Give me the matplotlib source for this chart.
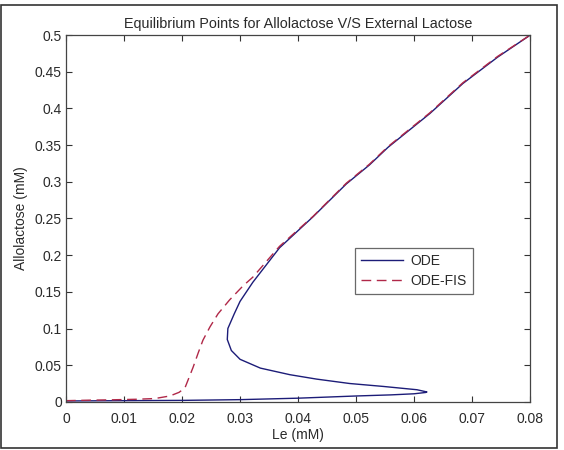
import matplotlib
matplotlib.use('Agg')
import matplotlib.pyplot as plt
from matplotlib.patches import Rectangle

plt.rcParams['font.family'] = ['Liberation Sans', 'DejaVu Sans']

# ODE curve: lower branch -> turning point -> middle branch -> nose -> upper branch
ode_le = [0.0, 0.01, 0.02, 0.03, 0.04, 0.05, 0.056, 0.06, 0.062, 0.0622,
          0.0605, 0.0547, 0.0489, 0.0432, 0.0386, 0.0335, 0.030, 0.0285, 0.0278, 0.0279,
          0.0290, 0.030, 0.0322, 0.0368, 0.0426, 0.0483, 0.0523, 0.0555, 0.0627, 0.0684,
          0.0744, 0.080]
ode_allo = [0.0012, 0.0016, 0.002, 0.003, 0.005, 0.008, 0.0095, 0.011, 0.0128, 0.0135,
            0.0165, 0.021, 0.025, 0.031, 0.037, 0.046, 0.058, 0.070, 0.085, 0.100,
            0.120, 0.137, 0.163, 0.210, 0.2525, 0.297, 0.323, 0.347, 0.393, 0.434,
            0.470, 0.500]

# ODE-FIS curve
fis_le = [0.0, 0.004, 0.008, 0.012, 0.0153, 0.0179, 0.0195, 0.0205, 0.021, 0.0219,
          0.0228, 0.0236, 0.0248, 0.0262, 0.0282, 0.0305, 0.0322, 0.0368, 0.0426, 0.0483,
          0.0523, 0.0555, 0.0627, 0.0684, 0.0744, 0.080]
fis_allo = [0.0016, 0.0023, 0.0028, 0.0035, 0.0045, 0.008, 0.013, 0.019, 0.029, 0.047,
            0.067, 0.084, 0.102, 0.120, 0.139, 0.158, 0.170, 0.212, 0.253, 0.298,
            0.324, 0.348, 0.394, 0.435, 0.471, 0.500]

xticks = [0, 0.01, 0.02, 0.03, 0.04, 0.05, 0.06, 0.07, 0.08]
xticklabels = ['0', '0.01', '0.02', '0.03', '0.04', '0.05', '0.06', '0.07', '0.08']
yticks = [0, 0.05, 0.1, 0.15, 0.2, 0.25, 0.3, 0.35, 0.4, 0.45, 0.5]
yticklabels = ['0', '0.05', '0.1', '0.15', '0.2', '0.25', '0.3', '0.35', '0.4', '0.45', '0.5']

txt = '#2a2a2a'
fig = plt.figure(figsize=(5.64, 4.5), dpi=100)
ax = fig.add_axes([0.117, 0.107, 0.823, 0.815])

ax.plot(ode_le, ode_allo, color='#1c1c78', linewidth=1.0, label='ODE')
ax.plot(fis_le, fis_allo, color='#b02848', linewidth=1.0, linestyle=(0, (7, 4)),
        label='ODE-FIS')

ax.set_xlim(0, 0.08)
ax.set_ylim(0, 0.5)
ax.set_xticks(xticks)
ax.set_xticklabels(xticklabels)
ax.set_yticks(yticks)
ax.set_yticklabels(yticklabels)
ax.tick_params(direction='in', length=4, width=0.8, top=True, right=True,
               labelsize=10, colors='#333333', labelcolor=txt, pad=3)
ax.tick_params(axis='x', pad=7)
for s in ax.spines.values():
    s.set_color('#444444')
    s.set_linewidth(0.9)

ax.set_title('Equilibrium Points for Allolactose V/S External Lactose',
             fontsize=10.4, color=txt, pad=5)
ax.set_xlabel('Le (mM)', fontsize=10, color=txt, labelpad=2)
ax.set_ylabel('Allolactose (mM)', fontsize=10, color=txt, labelpad=5)

leg = ax.legend(loc='upper left', bbox_to_anchor=(0.623, 0.420), borderaxespad=0,
                fancybox=False, fontsize=10, handlelength=3.0, handletextpad=0.5,
                borderpad=0.45, labelspacing=0.4)
leg.get_frame().set_edgecolor('#444444')
leg.get_frame().set_linewidth(0.9)
for t in leg.get_texts():
    t.set_color(txt)

# outer frame around the figure
fig.patches.append(Rectangle((0.002, 0.004), 0.986, 0.985, transform=fig.transFigure,
                             fill=False, edgecolor='#333333', linewidth=1.2))

fig.savefig('out.png', dpi=100)
